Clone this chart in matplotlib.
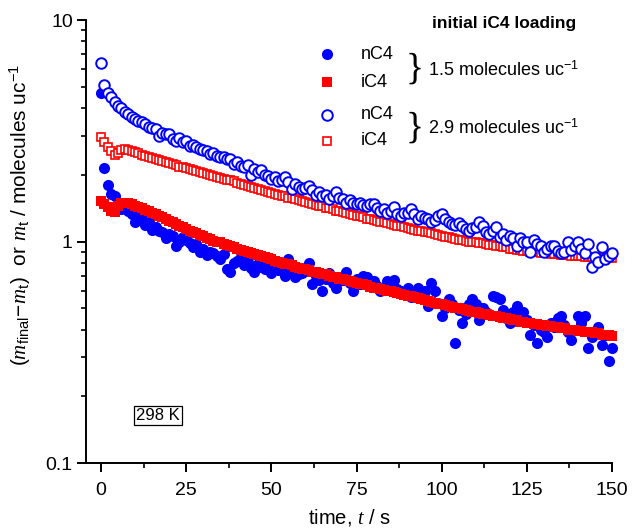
import numpy as np
import matplotlib
matplotlib.use("Agg")
import matplotlib.pyplot as plt
from matplotlib.ticker import FixedLocator, NullFormatter, LogLocator

plt.rcParams['font.family'] = ['Liberation Sans', 'DejaVu Sans']
plt.rcParams['mathtext.fontset'] = 'custom'
plt.rcParams['mathtext.rm'] = 'Liberation Sans'
plt.rcParams['mathtext.it'] = 'Liberation Serif:style=italic'
plt.rcParams['mathtext.bf'] = 'Liberation Sans:bold'

# ==========================================
# Datos (un punto por segundo)
# ==========================================
tiempo = np.arange(0, 151)

# nC4, carga inicial de iC4 1.5 molecules/uc (círculos llenos)
nc4_15 = [
    4.7, 2.15, 1.8, 1.64, 1.6, 1.5, 1.4, 1.45, 1.38, 1.33,
    1.23, 1.26, 1.3, 1.19, 1.22, 1.13, 1.16, 1.12, 1.1, 1.04,
    1.08, 1.06, 0.95, 1.0, 1.05, 1.02, 0.98, 0.94, 0.97, 0.9,
    0.93, 0.87, 0.9, 0.89, 0.86, 0.83, 0.88, 0.75, 0.73, 0.8,
    0.82, 0.85, 0.78, 0.81, 0.76, 0.73, 0.79, 0.77, 0.75, 0.79,
    0.72, 0.78, 0.74, 0.76, 0.7, 0.83, 0.74, 0.69, 0.71, 0.72,
    0.75, 0.8, 0.64, 0.7, 0.67, 0.6, 0.68, 0.72, 0.65, 0.62,
    0.66, 0.67, 0.73, 0.65, 0.6, 0.68, 0.64, 0.7, 0.69, 0.63,
    0.66, 0.63, 0.6, 0.62, 0.66, 0.64, 0.67, 0.61, 0.6, 0.58,
    0.62, 0.56, 0.58, 0.62, 0.57, 0.6, 0.51, 0.65, 0.6, 0.53,
    0.46, 0.5, 0.55, 0.52, 0.35, 0.49, 0.43, 0.47, 0.52, 0.55,
    0.52, 0.44, 0.5, 0.48, 0.47, 0.57, 0.56, 0.55, 0.49, 0.45,
    0.43, 0.48, 0.51, 0.48, 0.48, 0.44, 0.38, 0.42, 0.35, 0.4,
    0.39, 0.37, 0.43, 0.41, 0.45, 0.46, 0.42, 0.39, 0.36, 0.4,
    0.46, 0.43, 0.46, 0.33, 0.37, 0.39, 0.41, 0.34, 0.38, 0.29,
    0.33,
]

# iC4, carga inicial 1.5 (cuadrados llenos)
ic4_15 = [
    1.53, 1.48, 1.43, 1.38, 1.36, 1.45, 1.50, 1.50, 1.49, 1.47,
    1.45, 1.43, 1.41, 1.39, 1.37, 1.35, 1.33, 1.31, 1.29, 1.26,
    1.24, 1.22, 1.20, 1.18, 1.16, 1.14, 1.12, 1.10, 1.09, 1.07,
    1.06, 1.04, 1.03, 1.01, 1.00, 0.99, 0.97, 0.96, 0.95, 0.94,
    0.93, 0.92, 0.91, 0.90, 0.89, 0.88, 0.87, 0.86, 0.85, 0.84,
    0.83, 0.82, 0.81, 0.80, 0.79, 0.79, 0.78, 0.77, 0.76, 0.755,
    0.75, 0.74, 0.73, 0.725, 0.72, 0.715, 0.71, 0.70, 0.695, 0.69,
    0.68, 0.675, 0.67, 0.665, 0.655, 0.65, 0.645, 0.64, 0.635, 0.625,
    0.62, 0.615, 0.61, 0.605, 0.60, 0.595, 0.59, 0.585, 0.58, 0.575,
    0.57, 0.565, 0.56, 0.555, 0.55, 0.545, 0.54, 0.535, 0.53, 0.525,
    0.52, 0.515, 0.51, 0.505, 0.50, 0.50, 0.495, 0.49, 0.485, 0.48,
    0.48, 0.475, 0.47, 0.47, 0.465, 0.46, 0.46, 0.455, 0.45, 0.45,
    0.445, 0.44, 0.44, 0.435, 0.435, 0.43, 0.43, 0.425, 0.425, 0.42,
    0.42, 0.415, 0.415, 0.41, 0.41, 0.405, 0.405, 0.40, 0.40, 0.40,
    0.395, 0.395, 0.39, 0.39, 0.39, 0.385, 0.385, 0.38, 0.38, 0.38,
    0.375,
]

# nC4, carga inicial 2.9 (círculos abiertos)
nc4_29 = [
    6.4, 5.1, 4.7, 4.5, 4.25, 4.1, 4.0, 3.85, 3.75, 3.65,
    3.58, 3.5, 3.45, 3.4, 3.3, 3.25, 3.22, 3.0, 3.1, 3.05,
    3.06, 2.9, 2.85, 2.92, 2.8, 2.85, 2.7, 2.72, 2.67, 2.62,
    2.58, 2.55, 2.48, 2.5, 2.43, 2.4, 2.42, 2.36, 2.37, 2.24,
    2.28, 2.19, 2.17, 2.22, 2.0, 2.12, 2.06, 2.1, 2.0, 1.97,
    1.91, 1.95, 1.87, 1.9, 1.95, 1.85, 1.72, 1.81, 1.76, 1.72,
    1.74, 1.78, 1.7, 1.63, 1.68, 1.6, 1.62, 1.55, 1.6, 1.67,
    1.58, 1.55, 1.5, 1.54, 1.5, 1.47, 1.5, 1.46, 1.44, 1.48,
    1.47, 1.42, 1.37, 1.4, 1.35, 1.38, 1.43, 1.33, 1.3, 1.35,
    1.35, 1.4, 1.33, 1.26, 1.3, 1.28, 1.26, 1.22, 1.25, 1.3,
    1.33, 1.27, 1.22, 1.2, 1.19, 1.21, 1.17, 1.14, 1.11, 1.15,
    1.16, 1.22, 1.18, 1.1, 1.08, 1.12, 1.16, 1.05, 1.08, 1.02,
    1.06, 1.04, 0.95, 1.04, 0.99, 1.0, 0.9, 1.02, 0.97, 0.95,
    0.9, 0.93, 0.95, 0.95, 0.91, 0.89, 0.9, 1.0, 0.92, 0.95,
    0.99, 0.93, 0.89, 0.97, 0.77, 0.85, 0.81, 0.94, 0.83, 0.86,
    0.89,
]

# iC4, carga inicial 2.9 (cuadrados abiertos)
ic4_29 = [
    2.95, 2.82, 2.68, 2.55, 2.47, 2.50, 2.60, 2.62, 2.60, 2.57,
    2.53, 2.50, 2.47, 2.44, 2.41, 2.38, 2.36, 2.33, 2.31, 2.28,
    2.26, 2.23, 2.21, 2.18, 2.16, 2.14, 2.12, 2.10, 2.08, 2.06,
    2.04, 2.02, 2.00, 1.98, 1.96, 1.94, 1.92, 1.90, 1.89, 1.87,
    1.84, 1.82, 1.80, 1.78, 1.76, 1.74, 1.73, 1.71, 1.69, 1.68,
    1.66, 1.64, 1.63, 1.61, 1.60, 1.58, 1.57, 1.55, 1.54, 1.52,
    1.51, 1.49, 1.48, 1.46, 1.45, 1.44, 1.42, 1.41, 1.40, 1.38,
    1.37, 1.36, 1.35, 1.33, 1.32, 1.31, 1.30, 1.29, 1.27, 1.26,
    1.25, 1.24, 1.23, 1.22, 1.21, 1.20, 1.19, 1.18, 1.17, 1.16,
    1.15, 1.14, 1.13, 1.12, 1.11, 1.10, 1.10, 1.09, 1.08, 1.07,
    1.06, 1.05, 1.05, 1.04, 1.03, 1.02, 1.02, 1.01, 1.00, 0.99,
    0.99, 0.98, 0.98, 0.97, 0.96, 0.96, 0.95, 0.95, 0.94, 0.94,
    0.93, 0.93, 0.92, 0.92, 0.91, 0.91, 0.90, 0.90, 0.90, 0.89,
    0.89, 0.89, 0.88, 0.88, 0.88, 0.87, 0.87, 0.87, 0.86, 0.86,
    0.86, 0.86, 0.85, 0.85, 0.85, 0.85, 0.84, 0.84, 0.84, 0.84,
    0.84,
]

AZUL = '#0000ff'
ROJO = '#ff0000'

# estilos de marcador (se usan en la gráfica y en la leyenda)
est_nc4_15 = dict(marker='o', color=AZUL, ms=8.0, mew=0)
est_ic4_15 = dict(marker='s', color=ROJO, ms=7.6, mew=0)
est_nc4_29 = dict(marker='o', mfc='white', mec=AZUL, ms=7.6, mew=1.4)
est_ic4_29 = dict(marker='s', mfc='white', mec=ROJO, ms=6.2, mew=1.2)

fig = plt.figure(figsize=(6.33, 5.30), dpi=100)
ax = fig.add_axes([0.1359, 0.1264, 0.8310, 0.8358])

# Series
ax.plot(tiempo, nc4_15, linestyle='none', clip_on=False, zorder=3, **est_nc4_15)
ax.plot(tiempo, ic4_15, linestyle='none', clip_on=False, zorder=4, **est_ic4_15)
ax.plot(tiempo, ic4_29, linestyle='none', clip_on=False, zorder=3, **est_ic4_29)
ax.plot(tiempo, nc4_29, linestyle='none', clip_on=False, zorder=4, **est_nc4_29)

# ==========================================
# Ejes
# ==========================================
ax.set_yscale('log')
ax.set_ylim(0.1, 10)
ax.set_xlim(-4.4, 150)
ax.set_yticks([0.1, 1, 10])
ax.set_yticklabels(['0.1', '1', '10'])
ax.yaxis.set_minor_locator(LogLocator(base=10, subs=np.arange(2, 10)))
ax.yaxis.set_minor_formatter(NullFormatter())
ax.set_xticks([0, 25, 50, 75, 100, 125, 150])
ax.xaxis.set_minor_locator(FixedLocator([12.5, 37.5, 62.5, 87.5, 112.5, 137.5]))

for lado in ['top', 'right']:
    ax.spines[lado].set_visible(False)
for lado in ['left', 'bottom']:
    ax.spines[lado].set_linewidth(1.4)

ax.tick_params(which='major', direction='out', length=6.5, width=1.4, labelsize=14, pad=3)
ax.tick_params(which='minor', direction='out', length=3.8, width=1.2)
ax.tick_params(axis='x', which='major', pad=7)

ax.set_xlabel(r'time, $t$ / s', fontsize=14.5, labelpad=6)
ax.set_ylabel(r'$(m_{\rm final}\!-\!m_{\rm t})$  or $m_{\rm t}$ / molecules uc$^{-1}$',
              fontsize=15)
ax.yaxis.set_label_coords(-0.1, 0.56)

# ==========================================
# Leyenda manual
# ==========================================
ax.text(0.795, 0.993, 'initial iC4 loading', transform=ax.transAxes,
        ha='center', va='center', fontsize=12.5, fontweight='bold')

filas = [0.923, 0.859, 0.786, 0.727]
estilos = [est_nc4_15, est_ic4_15, est_nc4_29, est_ic4_29]
nombres = ['nC4', 'iC4', 'nC4', 'iC4']
for fy, est, nom in zip(filas, estilos, nombres):
    ax.plot([0.458], [fy], transform=ax.transAxes, linestyle='none', clip_on=False, **est)
    ax.text(0.523, fy, nom, transform=ax.transAxes, ha='left', va='center', fontsize=13)

for fy in [0.889, 0.756]:
    ax.text(0.625, fy, '}', transform=ax.transAxes, ha='center', va='center',
            fontsize=27, family='Liberation Serif')
ax.text(0.650, 0.886, r'1.5 molecules uc$^{-1}$', transform=ax.transAxes,
        ha='left', va='center', fontsize=13)
ax.text(0.650, 0.756, r'2.9 molecules uc$^{-1}$', transform=ax.transAxes,
        ha='left', va='center', fontsize=13)

ax.text(0.137, 0.108, '298 K', transform=ax.transAxes, ha='center', va='center',
        fontsize=12, bbox=dict(boxstyle='square,pad=0.12', fc='white', ec='black', lw=0.9))

fig.savefig('out.png', dpi=100)
